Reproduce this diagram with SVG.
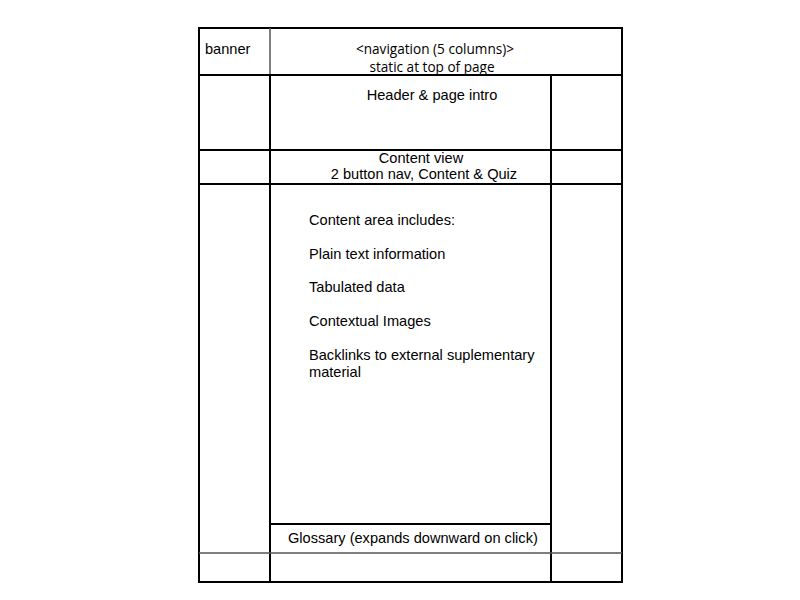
<svg xmlns="http://www.w3.org/2000/svg" width="800" height="600" viewBox="0 0 800 600">
<style>
.ln{stroke:#000;stroke-width:2;fill:none}
.thin{stroke:#555;stroke-width:1.5;fill:none}
.t{font-family:"Liberation Sans",Arial,sans-serif;font-size:14.6px;fill:#000}
.o{font-family:"Open Sans","Noto Sans",sans-serif;font-size:13.6px;fill:#000}
</style>
<rect width="800" height="600" fill="#fff"/>
<g id="connectors">
<rect class="ln" x="199" y="28" width="423" height="554"/>
<line class="thin" x1="270" y1="28" x2="270" y2="75"/>
<line class="ln" x1="270" y1="75" x2="270" y2="582"/>
<line class="ln" x1="199" y1="75" x2="622" y2="75"/>
<line class="ln" x1="551" y1="75" x2="551" y2="582"/>
<line class="ln" x1="199" y1="150" x2="622" y2="150"/>
<line class="ln" x1="199" y1="184" x2="622" y2="184"/>
<line class="ln" x1="270" y1="524" x2="551" y2="524"/>
<line class="thin" x1="199" y1="553" x2="622" y2="553"/>
</g>
<g id="banner"><text class="t" x="205" y="54">banner</text></g>
<g id="navigation">
<text class="o" x="435" y="54" text-anchor="middle">&lt;navigation (5 columns)&gt;</text>
<text class="o" x="432" y="72" text-anchor="middle">static at top of page</text>
</g>
<g id="header"><text class="t" x="432" y="100" text-anchor="middle">Header &amp; page intro</text></g>
<g id="content-view">
<text class="t" x="421" y="163" text-anchor="middle">Content view</text>
<text class="t" x="424" y="179" text-anchor="middle">2 button nav, Content &amp; Quiz</text>
</g>
<g id="content-area">
<text class="t" x="309" y="225">Content area includes:</text>
<text class="t" x="309" y="259">Plain text information</text>
<text class="t" x="309" y="292">Tabulated data</text>
<text class="t" x="309" y="326">Contextual Images</text>
<text class="t" x="309" y="360">Backlinks to external suplementary</text>
<text class="t" x="309" y="377">material</text>
</g>
<g id="glossary"><text class="t" x="288" y="543">Glossary (expands downward on click)</text></g>
</svg>
